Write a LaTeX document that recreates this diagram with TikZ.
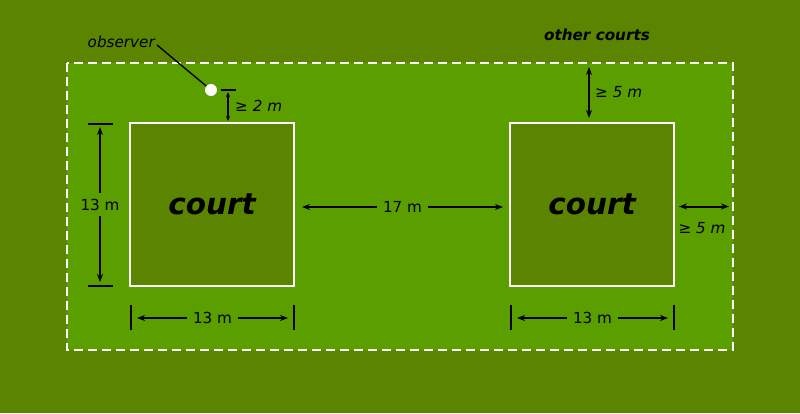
\documentclass[tikz,border=0pt]{standalone}
\usepackage{fontspec}
\setmainfont{DejaVu Sans}
\usetikzlibrary{arrows.meta}
\definecolor{outergreen}{HTML}{5B8500}
\definecolor{innergreen}{HTML}{5A9E00}
\begin{document}
\begin{tikzpicture}[x=1pt,y=-1pt,
  dim/.style={line width=2pt,{Stealth[length=8pt,width=6pt]}-{Stealth[length=8pt,width=6pt]}},
  tick/.style={line width=2.4pt},
  lbl/.style={font=\fontsize{15.2}{17}\selectfont,inner sep=2pt},
  ilbl/.style={lbl,font=\fontsize{15.2}{17}\selectfont\itshape},
  gaplbl/.style={lbl,fill=innergreen,inner sep=6pt},
  courtbox/.style={draw=white,line width=2.5pt,fill=outergreen,minimum width=164pt,minimum height=163pt,inner sep=0pt,font=\fontsize{29.5}{31}\selectfont\bfseries\itshape}]
\fill[outergreen] (0,0) rectangle (800,413);
\useasboundingbox (0,0) rectangle (800,413);
\draw[white,line width=2.8pt,dash pattern=on 9pt off 5pt,fill=innergreen] (67,63) rectangle (733,350);
\node[courtbox] (c1) at (212,204.5) {court};
\node[courtbox] (c2) at (592,204.5) {court};
% observer
\node[circle,fill=white,minimum size=12pt,inner sep=0pt] (obs) at (211,90) {};
\node[ilbl,anchor=east] (obsl) at (157,42) {observer};
\draw[line width=1.4pt] (obsl.east) ++(0,3) coordinate (ol) -- (obs);
\coordinate (t2a) at (221,90); \coordinate (t2b) at (236,90);
\draw[line width=1.6pt] (t2a) -- (t2b);
\coordinate (a2a) at (228,92); \coordinate (a2b) at (228,121);
\draw[line width=1.4pt,{Stealth[length=5pt,width=4pt]}-{Stealth[length=5pt,width=4pt]}] (a2a) -- (a2b);
\node[ilbl,anchor=west] (l2) at (233,106) {≥ 2 m};
% other courts
\node[lbl,font=\fontsize{15.2}{17}\selectfont\bfseries\itshape] (oc) at (597,35) {other courts};
\coordinate (a5a) at (589,67); \coordinate (a5b) at (589,118);
\draw[dim] (a5a) -- (a5b);
\node[ilbl,anchor=west] (l5) at (593,92) {≥ 5 m};
\coordinate (a6a) at (679,206.5); \coordinate (a6b) at (729,206.5);
\draw[dim] (a6a) -- (a6b);
\node[ilbl] (l6) at (702,228) {≥ 5 m};
% left 13 m
\draw[tick] (88,124) coordinate (lt1) -- (113,124);
\draw[tick] (88,286) coordinate (lt2) -- (113,286);
\coordinate (la) at (100,127); \coordinate (lb) at (100,282);
\draw[dim] (la) -- (lb) node[gaplbl,pos=0.5,inner xsep=1pt] (ll) {13 m};
% bottom 13 m
\draw[tick] (131,305) -- (131,330);
\draw[tick] (294,305) -- (294,330);
\coordinate (b1a) at (137,318); \coordinate (b1b) at (288,318);
\draw[dim] (b1a) -- (b1b) node[gaplbl,pos=0.5] (bl1) {13 m};
\draw[tick] (511,305) -- (511,330);
\draw[tick] (674,305) -- (674,330);
\coordinate (b2a) at (517,318); \coordinate (b2b) at (668,318);
\draw[dim] (b2a) -- (b2b) node[gaplbl,pos=0.5] (bl2) {13 m};
% 17 m
\coordinate (ma) at (302,207); \coordinate (mb) at (503,207);
\draw[dim] (ma) -- (mb) node[gaplbl,pos=0.5] (ml) {17 m};
\end{tikzpicture}
\end{document}
